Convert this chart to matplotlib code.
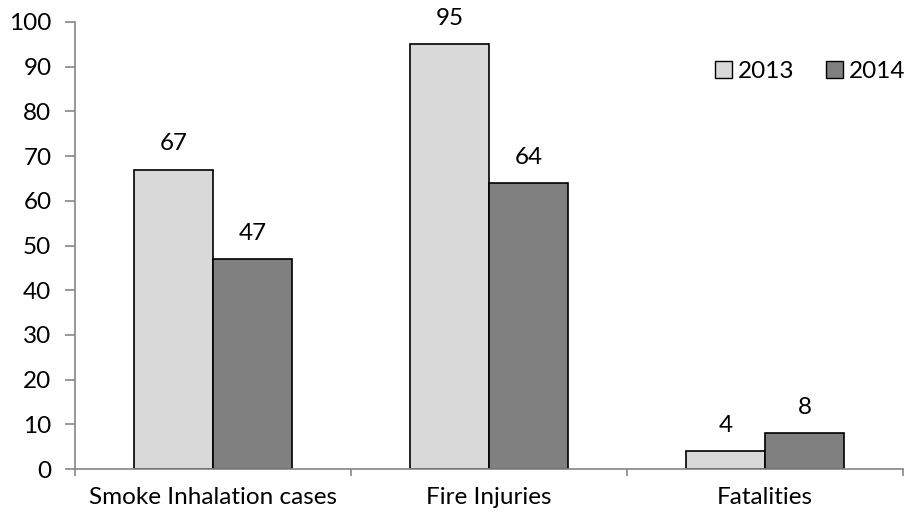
import matplotlib
matplotlib.use("Agg")
import matplotlib.pyplot as plt
import numpy as np
from matplotlib.patches import Patch

categories = ["Smoke Inhalation cases", "Fire Injuries", "Fatalities"]
series_names = ["2013", "2014"]
values_2013 = [67, 95, 4]
values_2014 = [47, 64, 8]
yticks = [0, 10, 20, 30, 40, 50, 60, 70, 80, 90, 100]

plt.rcParams['font.family'] = ['Lato', 'DejaVu Sans']
FS = 17.5
fig = plt.figure(figsize=(9.05, 5.15), dpi=100)
ax = fig.add_axes([75/905, 1-469/515, (903-75)/905, (469-22)/515])

x = np.arange(len(categories))
w = 0.286
c13 = '#D9D9D9'
c14 = '#808080'
b1 = ax.bar(x - w/2, values_2013, w, color=c13, edgecolor='black', linewidth=1.2)
b2 = ax.bar(x + w/2, values_2014, w, color=c14, edgecolor='black', linewidth=1.2)
for bars, vals in ((b1, values_2013), (b2, values_2014)):
    for r, v in zip(bars, vals):
        ax.annotate(str(v), (r.get_x() + r.get_width()/2, v), xytext=(0, 11),
                    textcoords='offset points', ha='center', va='bottom', fontsize=FS)

ax.set_xlim(-0.5, 2.5)
ax.set_ylim(0, 100)
ax.set_yticks(yticks)
ax.set_yticklabels([str(t) for t in yticks], fontsize=FS)
ax.set_xticks(x)
ax.set_xticklabels(categories, fontsize=FS)
ax.tick_params(axis='x', length=0, pad=13)
ax.set_xticks([-0.5, 0.5, 1.5, 2.5], minor=True)
ax.tick_params(axis='x', which='minor', length=5, color='#868686', width=1.2)
ax.tick_params(axis='y', length=7, color='#868686', width=1.2, pad=10)
for s in ['top', 'right']:
    ax.spines[s].set_visible(False)
for s in ['left', 'bottom']:
    ax.spines[s].set_color('#868686')
    ax.spines[s].set_linewidth(1.2)

handles = [Patch(facecolor=c13, edgecolor='black'), Patch(facecolor=c14, edgecolor='black')]
ax.legend(handles, series_names, loc='upper right', bbox_to_anchor=(1.021, 0.945), ncol=2,
          frameon=False, fontsize=FS, handlelength=0.7, handleheight=0.7,
          handletextpad=0.25, columnspacing=1.3, borderaxespad=0.2)

fig.savefig('out.png', dpi=100)
